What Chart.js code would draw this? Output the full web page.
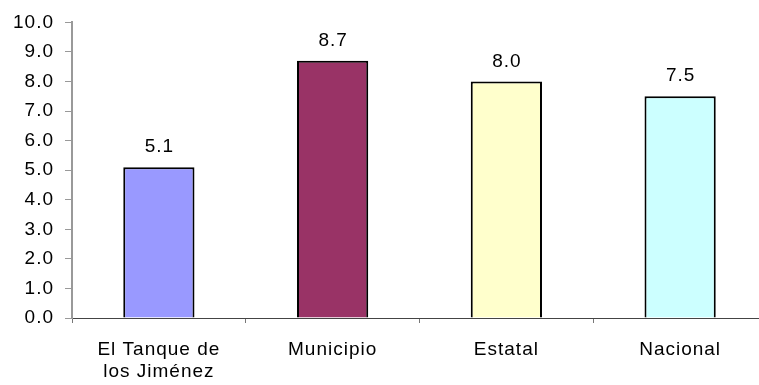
<!DOCTYPE html>
<html>
<head>
<meta charset="utf-8">
<script src="https://cdn.jsdelivr.net/npm/chart.js@4/dist/chart.umd.min.js"></script>
<style>
  html, body { margin: 0; padding: 0; background: #fff; overflow: hidden; }
  #wrap { width: 770px; height: 385px; position: relative; }
</style>
</head>
<body>
<div id="wrap"><canvas id="c" width="770" height="385"></canvas></div>
<script>
// Categories and values
const categories = [['El Tanque de', 'los Jiménez'], 'Municipio', 'Estatal', 'Nacional'];
const values = [5.1, 8.7, 8.0, 7.5];
const barColors = ['#9999FF', '#993366', '#FFFFCC', '#CCFFFF'];
const yTicks = [0, 1, 2, 3, 4, 5, 6, 7, 8, 9, 10];

const FONT = 'Liberation Sans, Arial, sans-serif';
const FONT_SIZE = 19;
const SPACING = '1px';

// Slightly looser letter spacing for all canvas text
const spacing = {
  id: 'spacing',
  beforeUpdate(chart) { chart.ctx.letterSpacing = SPACING; },
  beforeLayout(chart) { chart.ctx.letterSpacing = SPACING; },
  beforeDraw(chart) { chart.ctx.letterSpacing = SPACING; }
};

// Value labels above each bar
const valueLabels = {
  id: 'valueLabels',
  afterDatasetsDraw(chart) {
    const ctx = chart.ctx;
    const meta = chart.getDatasetMeta(0);
    ctx.save();
    ctx.letterSpacing = SPACING;
    ctx.font = FONT_SIZE + 'px ' + FONT;
    ctx.fillStyle = '#000';
    ctx.textAlign = 'center';
    ctx.textBaseline = 'alphabetic';
    meta.data.forEach((bar, i) => {
      ctx.fillText(values[i].toFixed(1), bar.x + 0.5, bar.y - 15);
    });
    ctx.restore();
  }
};

new Chart(document.getElementById('c'), {
  type: 'bar',
  data: {
    labels: categories,
    datasets: [{
      data: values,
      backgroundColor: barColors,
      borderColor: '#000',
      borderWidth: 2,
      barPercentage: 0.41,
      categoryPercentage: 1.0
    }]
  },
  options: {
    responsive: false,
    animation: false,
    layout: { padding: { top: 17, right: 3, left: 0, bottom: 0 } },
    plugins: {
      legend: { display: false },
      tooltip: { enabled: false }
    },
    scales: {
      x: {
        offset: true,
        grid: {
          display: true,
          offset: true,
          drawOnChartArea: false,
          drawTicks: true,
          tickLength: 5,
          color: '#777'
        },
        border: { display: true, color: '#444', width: 1 },
        ticks: {
          color: '#000',
          font: { family: FONT, size: FONT_SIZE, lineHeight: 1.15 },
          padding: 16,
          maxRotation: 0,
          autoSkip: false
        },
        afterFit(scale) { scale.height = 67; }
      },
      y: {
        min: 0,
        max: 10,
        afterBuildTicks(scale) { scale.ticks = yTicks.map(v => ({ value: v })); },
        grid: {
          display: true,
          drawOnChartArea: false,
          drawTicks: true,
          tickLength: 7,
          color: '#999'
        },
        border: { display: true, color: '#999', width: 2 },
        ticks: {
          color: '#000',
          font: { family: FONT, size: FONT_SIZE },
          padding: 11,
          callback: v => Number(v).toFixed(1)
        },
        afterFit(scale) { scale.width = 72; }
      }
    }
  },
  plugins: [spacing, valueLabels]
});
</script>
</body>
</html>
